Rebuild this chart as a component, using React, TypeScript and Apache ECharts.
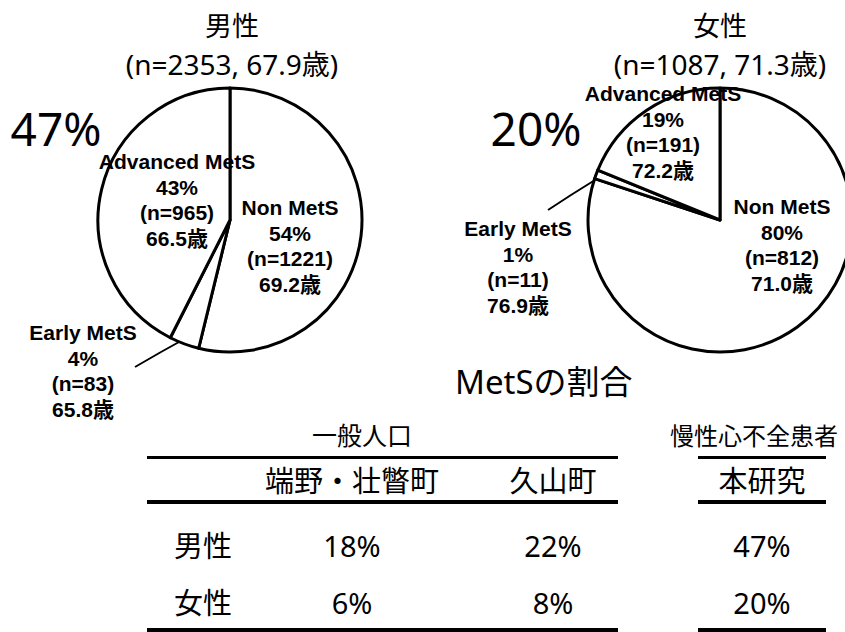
import React, { useEffect, useRef } from 'react';
import * as echarts from 'echarts';

// ---- data ----
const sliceNames = ['Non MetS', 'Early MetS', 'Advanced MetS'];
const maleCounts = [1221, 83, 965];
const maleAges = [69.2, 65.8, 66.5];
const femaleCounts = [812, 11, 191];
const femaleAges = [71.0, 76.9, 72.2];

const groupTitles = ['男性', '女性'];
const groupTotals = [2353, 1087];
const groupMeanAges = [67.9, 71.3];
const metsRates = [47, 20];

const tableHeading = 'MetSの割合';
const tableGroups = ['一般人口', '慢性心不全患者'];
const tableColumns = ['端野・壮瞥町', '久山町', '本研究'];
const tableRows = ['男性', '女性'];
const tableMale = [18, 22, 47];
const tableFemale = [6, 8, 20];

// ---- layout (positions / styles) ----
const pieCenters = [[230, 220], [720, 220]];
const pieRadius = 132;
const labelPos = [
  [[290, 246], [83, 371], [177, 200]],
  [[782, 245], [518, 267], [663, 132]],
];
const leaderLines = [
  [[135, 367], [161, 352], [188, 337]],
  [[548, 210], [571, 195], [595, 180]],
];
const titleX = [232, 720];
const rateX = [56, 536];
const colX = [352, 553, 762];
const rowY = [545, 602];
const rowLabelX = 203;

const CJK = '"Noto Sans", "Noto Sans CJK JP", sans-serif';
const BOLD = '"Liberation Sans", Arial, "Noto Sans CJK JP", sans-serif';

function pieSeries(idx: number, counts: number[], ages: number[]) {
  return {
    type: 'pie',
    center: pieCenters[idx],
    radius: pieRadius,
    startAngle: 90,
    clockwise: true,
    avoidLabelOverlap: false,
    silent: true,
    emphasis: { disabled: true },
    itemStyle: { color: '#fff', borderColor: '#000', borderWidth: 3 },
    label: {
      show: true,
      position: 'inside',
      color: '#000',
      fontFamily: BOLD,
      fontWeight: 'bold',
      fontSize: 21,
      lineHeight: 25.5,
      formatter: (p: any) =>
        `${p.name}\n${Math.round(p.percent)}%\n(n=${p.value})\n${ages[p.dataIndex].toFixed(1)}歳`,
    },
    labelLine: { show: false },
    labelLayout: (p: any) => {
      const [x, y] = labelPos[idx][p.dataIndex];
      const r: any = { x, y, align: 'center', verticalAlign: 'middle' };
      if (p.dataIndex === 1) r.labelLinePoints = leaderLines[idx];
      return r;
    },
    data: sliceNames.map((name, i) =>
      i === 1
        ? {
            name,
            value: counts[i],
            label: { position: 'outside' },
            labelLine: { show: true, lineStyle: { color: '#000', width: 2 } },
          }
        : { name, value: counts[i] }
    ),
  };
}

function txt(text: string, x: number, y: number, size: number, align = 'center', family = CJK) {
  return {
    type: 'text',
    x,
    y,
    silent: true,
    style: {
      text,
      fill: '#000',
      fontFamily: family,
      fontSize: size,
      align,
      verticalAlign: 'middle',
    },
  };
}

function bar(x1: number, x2: number, y: number, h: number) {
  return { type: 'rect', silent: true, shape: { x: x1, y, width: x2 - x1, height: h }, style: { fill: '#000' } };
}

export default function App() {
  const ref = useRef<HTMLDivElement>(null);
  useEffect(() => {
    if (!ref.current) return;
    const chart = echarts.init(ref.current, undefined, { renderer: 'svg' });
    const graphics: any[] = [];
    groupTitles.forEach((t, i) => {
      graphics.push(txt(t, titleX[i], 25, 27));
      graphics.push(txt(`(n=${groupTotals[i]}, ${groupMeanAges[i].toFixed(1)}歳)`, titleX[i], 64, 28));
      graphics.push(txt(`${metsRates[i]}%`, rateX[i], 128, 46));
    });
    graphics.push(txt(tableHeading, 455, 381, 33, 'left'));
    graphics.push(txt(tableGroups[0], 362, 435, 25));
    graphics.push(txt(tableGroups[1], 670, 435, 24, 'left'));
    tableColumns.forEach((c, i) => graphics.push(txt(c, colX[i], 480, 29)));
    const rows = [tableMale, tableFemale];
    tableRows.forEach((r, ri) => {
      graphics.push(txt(r, rowLabelX, rowY[ri], 29));
      rows[ri].forEach((v, ci) => graphics.push(txt(`${v}%`, colX[ci], rowY[ri], 29)));
    });
    graphics.push(bar(147, 618, 456, 3), bar(147, 618, 500, 4), bar(147, 618, 628, 4));
    graphics.push(bar(698, 826, 456, 3), bar(698, 826, 500, 4), bar(698, 826, 628, 4));

    chart.setOption({
      animation: false,
      backgroundColor: '#fff',
      series: [pieSeries(0, maleCounts, maleAges), pieSeries(1, femaleCounts, femaleAges)],
      graphic: graphics,
    });
    return () => chart.dispose();
  }, []);
  return <div ref={ref} style={{ position: 'absolute', left: 0, top: 0, width: 845, height: 632 }} />;
}
